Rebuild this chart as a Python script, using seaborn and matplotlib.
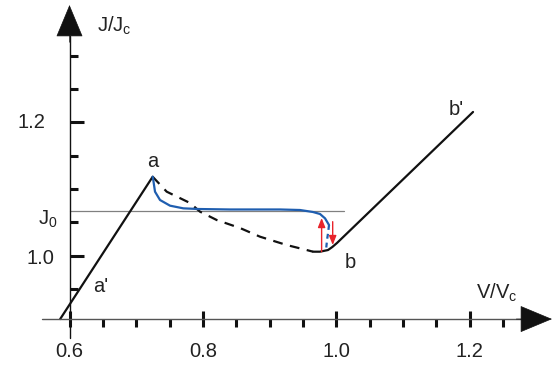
import numpy as np
import pandas as pd
import matplotlib
matplotlib.use('Agg')
import matplotlib.pyplot as plt
from matplotlib.ticker import FixedLocator
import seaborn as sns

# --- data (V/Vc, J/Jc) ---
# left branch a' -> a
left_v = [0.586, 0.7247]
left_j = [0.905, 1.1184]

# unstable (dashed) branch a -> b
unstable_v = [0.7247, 0.7457, 0.7807, 0.7957, 0.8207, 0.8556, 0.8856, 0.9256, 0.9556, 0.9651]
unstable_j = [1.1184, 1.0960, 1.0790, 1.0660, 1.0535, 1.0415, 1.0285, 1.0160, 1.0085, 1.0060]

# right branch b -> b'
right_v = [0.9651, 0.9756, 0.9876, 0.9940, 1.0010, 1.205]
right_j = [1.0060, 1.0060, 1.0085, 1.0130, 1.0190, 1.2155]

# measured (blue) curve, solid part then dashed part
meas_v = [0.7247, 0.7256, 0.7282, 0.7357, 0.7507, 0.7706, 0.7931, 0.8406, 0.9156,
          0.9456, 0.9651, 0.9756, 0.9831, 0.9891]
meas_j = [1.1184, 1.1135, 1.0960, 1.0835, 1.0750, 1.0710, 1.0700, 1.0693, 1.0693,
          1.0685, 1.0655, 1.0625, 1.0560, 1.0460]
meas_dash_v = [0.9891, 0.9875, 0.9861, 0.9846]
meas_dash_j = [1.0460, 1.0330, 1.0235, 1.0085]

J0 = 1.067
j0_line_v = [0.6, 1.011]

# red switching arrows (v, j_start, j_end)
arrow_up = (0.978, 1.006, 1.0565)
arrow_down = (0.9946, 1.051, 1.016)

x_major = [0.6, 0.8, 1.0, 1.2]
x_minor = [0.65, 0.7, 0.75, 0.85, 0.9, 0.95, 1.05, 1.1, 1.15, 1.25]
y_major = [1.0, 1.2]
y_minor = [0.95, 1.05, 1.1, 1.15, 1.25, 1.3]
x_labels = ['0.6', '0.8', '1.0', '1.2']

sns.set_theme(style='white')
plt.rcParams['font.family'] = ['Liberation Sans', 'DejaVu Sans']
plt.rcParams['mathtext.fontset'] = 'custom'
plt.rcParams['mathtext.rm'] = 'Liberation Sans'

fig = plt.figure(figsize=(5.54, 3.66), dpi=100)
ax = fig.add_axes([0, 0, 1, 1])
ax.set_xlim(0.4958, 1.3264)
ax.set_ylim(0.8346, 1.3834)
ax.patch.set_alpha(0)

blue = '#1f5eb0'
red = '#e8242b'
lw = 1.6

# J0 reference line
ax.plot(j0_line_v, [J0, J0], color='#808080', lw=0.9, zorder=1)

sns.lineplot(x=left_v, y=left_j, sort=False, estimator=None, color='#111111', lw=lw, ax=ax)
sns.lineplot(x=right_v, y=right_j, sort=False, estimator=None, color='#111111', lw=lw, ax=ax)
sns.lineplot(x=unstable_v, y=unstable_j, sort=False, estimator=None, color='#111111',
             lw=lw, linestyle=(0, (4.4, 3.4)), ax=ax)
sns.lineplot(x=meas_v, y=meas_j, sort=False, estimator=None, color=blue, lw=lw, ax=ax)
sns.lineplot(x=meas_dash_v, y=meas_dash_j, sort=False, estimator=None, color=blue,
             lw=lw, linestyle=(0, (2.2, 1.8)), ax=ax)

for v, j1, j2 in (arrow_up, arrow_down):
    ax.annotate('', xy=(v, j2), xytext=(v, j1),
                arrowprops=dict(arrowstyle='-|>,head_length=0.55,head_width=0.22',
                                mutation_scale=10, color=red, lw=1.0,
                                shrinkA=0, shrinkB=0))

# axes drawn as arrows
for s in ax.spines.values():
    s.set_visible(False)
ax.spines['left'].set_position(('data', 0.6))
ax.spines['bottom'].set_position(('data', 0.905))
ax.plot([0.6, 0.6], [0.8766, 1.33], color='#111111', lw=1.0, zorder=2)
ax.plot([0.5583, 1.28], [0.905, 0.905], color='#555555', lw=1.0, zorder=2)
ax.annotate('', xy=(0.6, 1.3759), xytext=(0.6, 1.32),
            arrowprops=dict(arrowstyle='-|>,head_length=0.72,head_width=0.3',
                            mutation_scale=30, color='#111111', lw=0.5,
                            shrinkA=0, shrinkB=0))
ax.annotate('', xy=(1.3234, 0.905), xytext=(1.27, 0.905),
            arrowprops=dict(arrowstyle='-|>,head_length=0.72,head_width=0.3',
                            mutation_scale=30, color='#111111', lw=0.5,
                            shrinkA=0, shrinkB=0))

# ticks
ax.xaxis.set_major_locator(FixedLocator(x_major))
ax.xaxis.set_minor_locator(FixedLocator(x_minor))
ax.yaxis.set_major_locator(FixedLocator(y_major))
ax.yaxis.set_minor_locator(FixedLocator(y_minor))
ax.tick_params(axis='x', which='major', direction='inout', length=11, width=2.2,
               color='#111111', labelbottom=False, bottom=True)
ax.tick_params(axis='x', which='minor', direction='out', length=6, width=2.2,
               color='#111111', bottom=True)
ax.tick_params(axis='y', which='major', direction='in', length=10, width=2.2,
               color='#111111', labelleft=False, left=True)
ax.tick_params(axis='y', which='minor', direction='in', length=6, width=2.2,
               color='#111111', left=True)

fs = 14.5
for v, lab in zip(x_major, x_labels):
    ax.text(v, 0.8477, lab, ha='center', va='baseline', fontsize=fs, color='#222222')
ax.text(0.5633, 1.191, '1.2', ha='right', va='baseline', fontsize=fs, color='#222222')
ax.text(0.578, 0.9871, '1.0', ha='right', va='baseline', fontsize=fs, color='#222222')
ax.text(0.5813, 1.046, r'J$_\mathregular{0}$', ha='right', va='baseline', fontsize=fs,
        color='#222222')
ax.text(0.6408, 1.3358, r'J/J$_\mathregular{c}$', ha='left', va='baseline', fontsize=fs,
        color='#222222')
ax.text(1.209, 0.9361, r'V/V$_\mathregular{c}$', ha='left', va='baseline', fontsize=fs,
        color='#222222')

ax.text(0.7244, 1.1328, 'a', ha='center', va='baseline', fontsize=fs, color='#222222')
ax.text(1.0206, 0.9816, 'b', ha='center', va='baseline', fontsize=fs, color='#222222')
ax.text(0.6352, 0.9456, "a'", ha='left', va='baseline', fontsize=fs, color='#222222')
ax.text(1.1802, 1.211, "b'", ha='center', va='baseline', fontsize=fs, color='#222222')

ax.set_xlabel('')
ax.set_ylabel('')
fig.savefig('out.png', dpi=100, facecolor='white')
